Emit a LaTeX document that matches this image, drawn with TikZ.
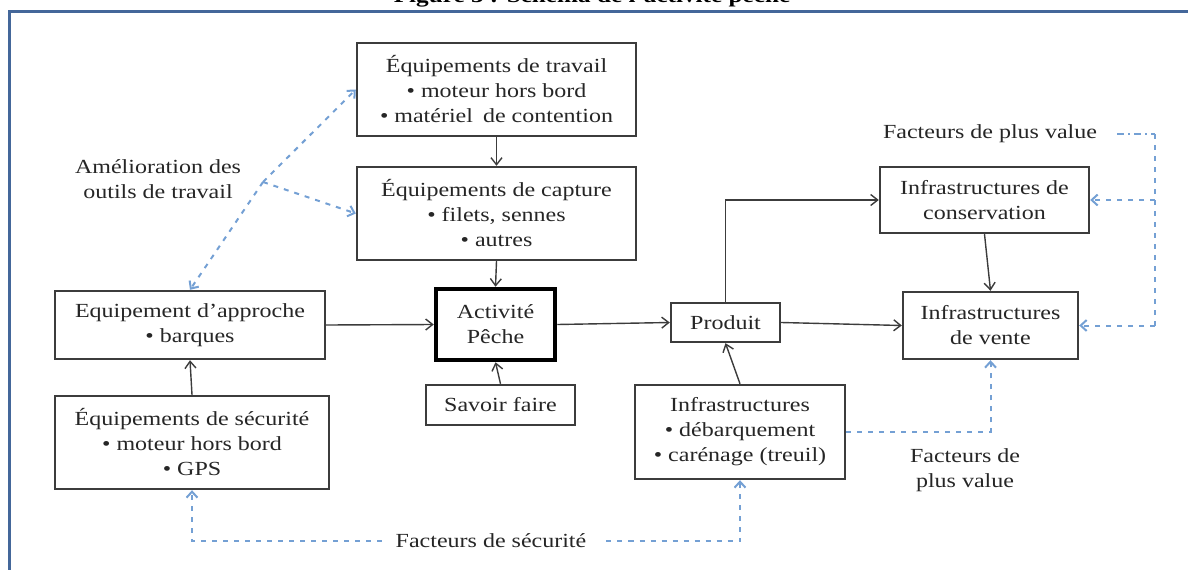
\documentclass[tikz,border=0pt]{standalone}
\usepackage{fontspec}
\setmainfont{Liberation Serif}[FakeStretch=1.2]
\usetikzlibrary{arrows.meta}
\definecolor{frameblue}{HTML}{44679A}
\definecolor{dashblue}{HTML}{74A0D4}
\definecolor{boxgray}{HTML}{3C3C3C}
\definecolor{txtgray}{HTML}{262626}
\begin{document}
\begin{tikzpicture}[x=1pt,y=-1pt,
 every node/.style={font=\fontsize{20}{25}\selectfont, text=txtgray},
 box/.style={draw=boxgray, line width=2.4pt, align=center, inner sep=0pt, fill=white},
 lbl/.style={align=center, inner sep=2pt},
 link/.style={draw=boxgray, line width=1.4pt, -{Straight Barb[length=7pt,width=11pt]}},
 bline/.style={draw=dashblue, line width=2pt, dash pattern=on 5pt off 6pt},
 blink/.style={bline, -{Straight Barb[length=6pt,width=11pt]}},
]
\useasboundingbox (0,0) rectangle (1188,570);
\clip (0,0) rectangle (1188,570);
% title (cut off at top, as in the reference)
\node[font=\bfseries\fontsize{21}{24}\selectfont, text=black, anchor=base, inner sep=0] (title) at (592,2.5) {Figure 3 : Schéma de l'activité pêche};
% frame
\coordinate (fA) at (1188,11.5);
\coordinate (fB) at (9.5,11.5);
\coordinate (fC) at (9.5,570);
\draw[frameblue, line width=3pt] (fA) -- (fB) -- (fC);

% boxes
\node[box, minimum width=279pt, minimum height=93pt] (trav) at (496.5,89.5) {Équipements de travail\\• moteur hors bord\\• matériel\enspace de contention};
\node[box, minimum width=279pt, minimum height=93pt] (capt) at (496.5,213.5) {Équipements de capture\\• filets, sennes\\• autres};
\node[box, line width=4.5pt, draw=black, minimum width=119pt, minimum height=71pt] (act) at (495.5,324.5) {Activité\\Pêche};
\node[box, minimum width=149pt, minimum height=40pt] (sav) at (500.5,405) {Savoir faire};
\node[box, minimum width=109pt, minimum height=39pt] (prod) at (725.5,322.5) {Produit};
\node[box, minimum width=210pt, minimum height=94pt] (infra) at (740,432) {Infrastructures\\• débarquement\\• carénage (treuil)};
\node[box, minimum width=209pt, minimum height=66pt] (cons) at (984.5,200) {Infrastructures de\\conservation};
\node[box, minimum width=175pt, minimum height=67pt] (vente) at (990.5,325.5) {Infrastructures\\de vente};
\node[box, minimum width=270pt, minimum height=68pt] (appr) at (190,325) {Equipement d'approche\\• barques};
\node[box, minimum width=274pt, minimum height=93pt] (secu) at (192,442.5) {Équipements de sécurité\\• moteur hors bord\\• GPS};

% labels
\node[lbl] (amel) at (158,179) {Amélioration des\\outils de travail};
\node[lbl] (pvA) at (990,134) {Facteurs de plus value};
\node[lbl] (pvB) at (965,470) {Facteurs de\\plus value};
\node[lbl] (fs) at (491,541) {Facteurs de sécurité};

% solid connectors
\draw[link] (trav.south) -- (capt.north);
\draw[link] (capt.south) -- (act.north);
\draw[link] (appr.east) -- (act.west);
\draw[link] (sav.north) -- (act.south);
\draw[link] (act.east) -- (prod.west);
\draw[link] (prod.north) |- (cons.west);
\draw[link] (prod.east) -- (vente.west);
\draw[link] (cons.south) -- (vente.north);
\draw[link] (infra.north) -- (prod.south);
\draw[link] (secu.north) -- (appr.south);

% dashed blue connectors
\coordinate (hub) at (263,182);
\draw[blink] (hub) -- (appr.north);
\draw[blink] (hub) -- (trav.west);
\draw[blink] (hub) -- (capt.west);

\coordinate (pv1) at (1155,134);
\coordinate (pv2) at (1155,325.5);
\draw[draw=dashblue, line width=2pt, dash pattern=on 7pt off 4pt on 2pt off 4pt, shorten <=18pt] (pvA.east) -- (pv1);
\draw[bline] (pv1) -- (pv2);
\draw[blink] (pv2) -- (vente.east);
\draw[blink] (pv1 |- cons.east) -- (cons.east);

\draw[blink] (infra.east) -| (vente.south);

\draw[blink, shorten <=12pt] (fs.west) -| (secu.south);
\draw[blink, shorten <=18pt] (fs.east) -| (infra.south);
\end{tikzpicture}
\end{document}
